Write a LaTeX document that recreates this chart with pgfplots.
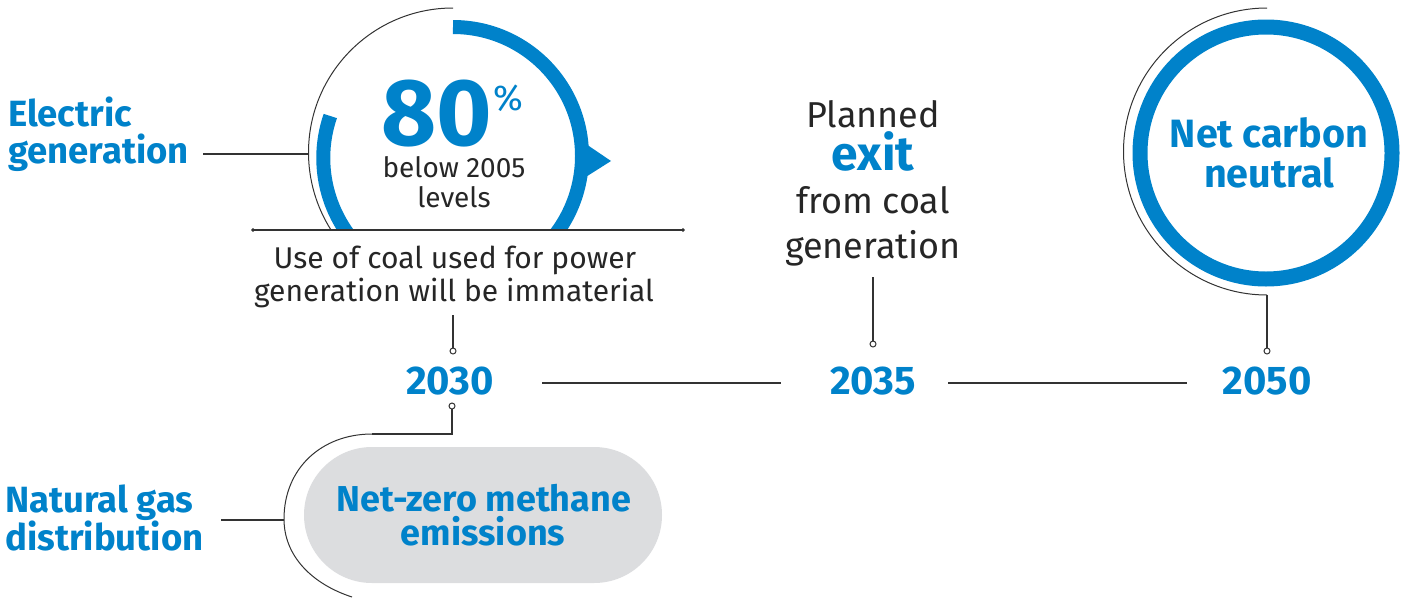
\documentclass[border=0pt]{standalone}
\usepackage{pgfplots}
\pgfplotsset{compat=1.18}
\usepackage{fontspec}
\setmainfont{Fira Sans}
\definecolor{cblue}{HTML}{0082CA}
\definecolor{cgray}{HTML}{DCDDDF}
\definecolor{linec}{HTML}{333333}
\newcommand{\fs}[1]{\fontsize{#1pt}{#1pt}\selectfont}
\begin{document}
\begin{tikzpicture}[every node/.style={inner sep=0pt}]
\begin{axis}[hide axis, scale only axis, width=1411pt, height=597pt,
  xmin=0, xmax=1411, ymin=0, ymax=597, y dir=reverse, clip=false]
% invisible frame
\addplot[draw=none] coordinates {(0,0) (1411,597)};
% ---------------- Electric generation block
\draw[linec, line width=1pt] (axis cs:453,8) arc[start angle=90, end angle=212.4, radius=144.5pt];
\begin{scope}
\clip (axis cs:0,0) rectangle (axis cs:1411,230);
\draw[cblue, line width=14pt] (axis cs:453,27) arc[start angle=90, end angle=-50, radius=129pt];
\draw[cblue, line width=14pt] (axis cs:330.3,116.0) arc[start angle=161, end angle=235, radius=129pt];
\end{scope}
\addplot[fill=cblue, draw=none] coordinates {(583,142) (611,161) (581,180)} -- cycle;
\addplot[linec, line width=1.1pt] coordinates {(253,230) (683,230)};
\addplot[only marks, mark=*, mark size=1.6pt, linec] coordinates {(253,230) (683,230)};
\addplot[linec, line width=1.1pt] coordinates {(203,154) (308.5,154)};
\node[anchor=base west, cblue, font=\bfseries\fs{36.5}] at (axis cs:8,126) {Electric};
\node[anchor=base west, cblue, font=\bfseries\fs{36.5}] at (axis cs:8,163) {generation};
\node[anchor=base, cblue, font=\bfseries\fs{95}] at (axis cs:437,145) {80};
\node[anchor=base west, cblue, font=\fs{36}] at (axis cs:493,110) {\%};
\node[anchor=base, text=black!85, font=\fs{28}] at (axis cs:454,177) {below 2005};
\node[anchor=base, text=black!85, font=\fs{28}] at (axis cs:454,207) {levels};
\node[anchor=base, text=black!85, font=\fs{30}] at (axis cs:455,268) {Use of coal used for power};
\node[anchor=base, text=black!85, font=\fs{30}] at (axis cs:454,301) {generation will be immaterial};
\addplot[linec, line width=1.1pt] coordinates {(453,315) (453,348)};
% ---------------- Planned exit
\node[anchor=base, text=black!85, font=\fs{36}] at (axis cs:873,127) {Planned};
\node[anchor=base, cblue, font=\bfseries\fs{48}] at (axis cs:873,170) {exit};
\node[anchor=base, text=black!85, font=\fs{36}] at (axis cs:873,213) {from coal};
\node[anchor=base, text=black!85, font=\fs{36}] at (axis cs:873,258) {generation};
\addplot[linec, line width=1.1pt] coordinates {(873,277) (873,341)};
% ---------------- Net carbon neutral
\draw[linec, line width=1pt] (axis cs:1267,8) arc[start angle=90, end angle=270, radius=143.5pt];
\draw[cblue, line width=15pt] (axis cs:1266,153) circle[radius=126pt];
\node[anchor=base, cblue, font=\bfseries\fs{39.5}] at (axis cs:1269,147) {Net carbon};
\node[anchor=base, cblue, font=\bfseries\fs{39.5}] at (axis cs:1269,187) {neutral};
\addplot[linec, line width=1.1pt] coordinates {(1267,295) (1267,348)};
% ---------------- Timeline
\addplot[linec, line width=1.2pt] coordinates {(542,383) (781,383)};
\addplot[linec, line width=1.2pt] coordinates {(948,383) (1187,383)};
\node[anchor=base, cblue, font=\bfseries\fs{40}] at (axis cs:450,394) {2030};
\node[anchor=base, cblue, font=\bfseries\fs{40}] at (axis cs:873,394) {2035};
\node[anchor=base, cblue, font=\bfseries\fs{40}] at (axis cs:1267,394) {2050};
% ---------------- Natural gas distribution
\fill[cgray, rounded corners=67.9pt] (axis cs:304,447) rectangle (axis cs:662,583);
\addplot[linec, line width=1.1pt] coordinates {(452,409) (452,434) (372,434)};
\draw[linec, line width=1pt] (axis cs:372,434) .. controls (axis cs:322,434) and (axis cs:284,468) .. (axis cs:284,519)
  .. controls (axis cs:284,556) and (axis cs:312,584) .. (axis cs:352,597);
\addplot[linec, line width=1.1pt] coordinates {(221,520) (284,520)};
\node[anchor=base west, cblue, font=\bfseries\fs{36.5}] at (axis cs:5,512) {Natural gas};
\node[anchor=base west, cblue, font=\bfseries\fs{36.5}] at (axis cs:5,550) {distribution};
\node[anchor=base, cblue, font=\bfseries\fs{36}] at (axis cs:484,511) {Net-zero methane};
\node[anchor=base, cblue, font=\bfseries\fs{36}] at (axis cs:483,545) {emissions};
% ---------------- marker circles
\addplot[only marks, mark=o, mark size=3pt, mark options={fill=white, draw=linec, line width=1pt}]
  coordinates {(453,351) (873,344) (1267,351) (452,406)};
\end{axis}
\end{tikzpicture}
\end{document}
